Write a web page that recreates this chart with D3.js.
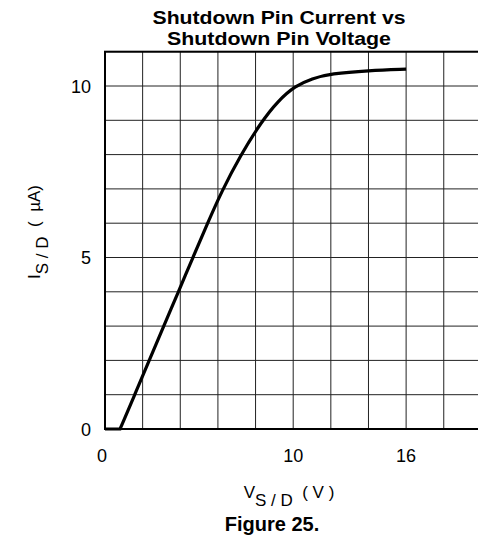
<!DOCTYPE html>
<html>
<head>
<meta charset="utf-8">
<script src="https://cdn.jsdelivr.net/npm/d3@7"></script>
<style>
  body { margin: 0; background: #fff; }
  svg { display: block; }
  text { white-space: pre; }
</style>
</head>
<body>
<div id="chart"></div>
<script>
// CONSTANTS AND GLOBALS
const width = 478,
  height = 542,
  margin = { top: 52, left: 105 };

// DATA
const voltage = [0, 0.8, 1.58, 2.35, 3.12, 3.9, 4.67, 5.45, 6.2, 7.2, 8.3, 9.2, 10.1, 11.0, 12.0, 14.0, 16.0];
const current = [0, 0, 1.0, 2.0, 3.0, 4.0, 5.0, 6.0, 6.93, 7.98, 8.95, 9.57, 10.0, 10.22, 10.36, 10.45, 10.49];
const xTicks = [0, 10, 16];
const yTicks = [0, 5, 10];
const xGrid = d3.range(0, 21, 2);
const yGrid = d3.range(0, 12, 1);

const points = voltage.map((v, i) => ({ v: v, i: current[i] }));
// flat part (below turn-on) and the rising part
const flatPart = points.filter(d => d.i === 0);
const risePart = points.slice(flatPart.length - 1);

// SCALES
const xScale = d3.scaleLinear().domain([0, 20]).range([margin.left, margin.left + 376.4]);
const yScale = d3.scaleLinear().domain([0, 11]).range([429, 429 - 377.3]);

const svg = d3.select("#chart")
  .append("svg")
  .attr("width", width)
  .attr("height", height);

// grid
svg.append("g")
  .selectAll("line")
  .data(xGrid)
  .join("line")
  .attr("x1", d => xScale(d)).attr("x2", d => xScale(d))
  .attr("y1", yScale(0)).attr("y2", yScale(11))
  .attr("stroke", "#222").attr("stroke-width", 1);

svg.append("g")
  .selectAll("line")
  .data(yGrid)
  .join("line")
  .attr("x1", xScale(0)).attr("x2", xScale(20))
  .attr("y1", d => yScale(d)).attr("y2", d => yScale(d))
  .attr("stroke", "#222").attr("stroke-width", 1);

// frame
svg.append("rect")
  .attr("x", xScale(0)).attr("y", yScale(11))
  .attr("width", xScale(20) - xScale(0))
  .attr("height", yScale(0) - yScale(11))
  .attr("fill", "none").attr("stroke", "#000").attr("stroke-width", 2);

// curve
const flatLine = d3.line()
  .x(d => xScale(d.v))
  .y(d => yScale(d.i));

const riseLine = d3.line()
  .x(d => xScale(d.v))
  .y(d => yScale(d.i))
  .curve(d3.curveBasis);

svg.append("path")
  .attr("d", flatLine(flatPart) + "L" + riseLine(risePart).slice(1))
  .attr("fill", "none")
  .attr("stroke", "#000")
  .attr("stroke-width", 3.2)
  .attr("stroke-linejoin", "miter");

// tick labels
const tickFont = "'Liberation Sans', Arial, sans-serif";
svg.append("g")
  .selectAll("text")
  .data(xTicks)
  .join("text")
  .attr("x", d => xScale(d) - (d === 0 ? 3 : 0))
  .attr("y", 462)
  .attr("text-anchor", "middle")
  .attr("font-family", tickFont)
  .attr("font-size", 18)
  .text(d => d);

svg.append("g")
  .selectAll("text")
  .data(yTicks)
  .join("text")
  .attr("x", 91)
  .attr("y", d => yScale(d) + 6.5)
  .attr("text-anchor", "end")
  .attr("font-family", tickFont)
  .attr("font-size", 18)
  .text(d => d);

// axis titles
const xLabel = svg.append("text")
  .attr("x", 289).attr("y", 498)
  .attr("text-anchor", "middle")
  .attr("font-family", tickFont)
  .attr("font-size", 17);
xLabel.append("tspan").text("V");
xLabel.append("tspan").attr("dy", 8).text("S / D");
xLabel.append("tspan").attr("dy", -8).text("  ( V )");

const yLabel = svg.append("text")
  .attr("transform", "translate(40,232) rotate(-90)")
  .attr("text-anchor", "middle")
  .attr("font-family", tickFont)
  .attr("font-size", 17);
yLabel.append("tspan").text("I");
yLabel.append("tspan").attr("dy", 8).text("S / D");
yLabel.append("tspan").attr("dy", -8).text("  (  \u00b5A)");

// title (one text element, two lines)
const titleFont = "'Liberation Sans', Arial, sans-serif";
const titleLines = ["Shutdown Pin Current vs", "Shutdown Pin Voltage"];
const titleLen = [253, 224];
svg.append("text")
  .attr("text-anchor", "middle")
  .attr("font-family", titleFont)
  .attr("font-weight", "bold")
  .attr("font-size", 18)
  .selectAll("tspan")
  .data(titleLines)
  .join("tspan")
  .attr("x", 279)
  .attr("y", (d, i) => 23.5 + i * 21)
  .attr("textLength", (d, i) => titleLen[i])
  .attr("lengthAdjust", "spacingAndGlyphs")
  .text(d => d);

svg.append("text")
  .attr("x", 272).attr("y", 531)
  .attr("text-anchor", "middle")
  .attr("font-family", titleFont)
  .attr("font-weight", "bold")
  .attr("font-size", 20)
  .text("Figure 25.");
</script>
</body>
</html>
